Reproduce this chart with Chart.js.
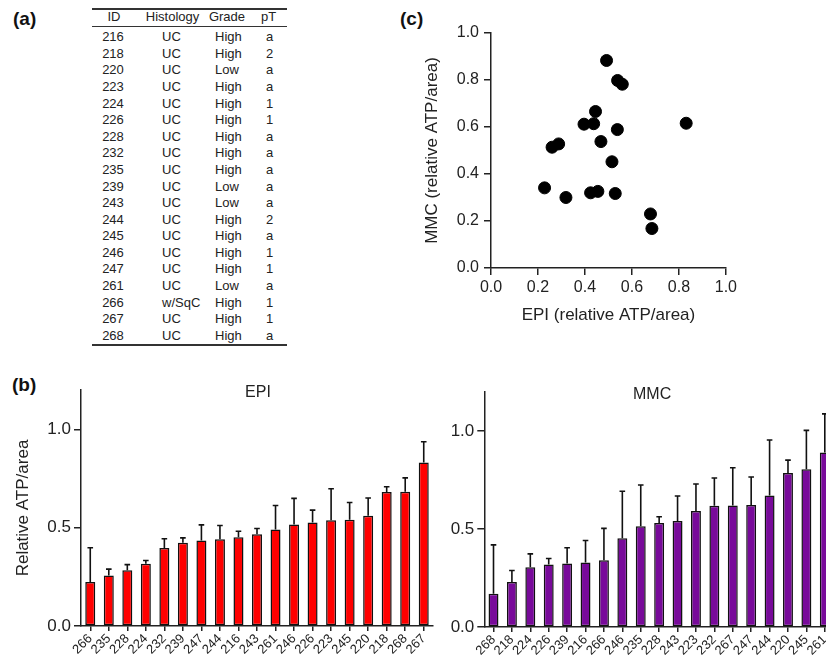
<!DOCTYPE html>
<html>
<head>
<meta charset="utf-8">
<script src="https://cdn.jsdelivr.net/npm/chart.js@4.4.1/dist/chart.umd.min.js"></script>
<style>
  html, body { margin: 0; padding: 0; background: #fff; }
  #page { position: relative; width: 826px; height: 662px; overflow: hidden; font-family: 'Liberation Sans', Arial, sans-serif; color: #222; }
  .panel { position: absolute; font-weight: bold; font-size: 19px; color: #111; }
  .cell { position: absolute; font-size: 13px; line-height: 16px; white-space: nowrap; }
  .rule { position: absolute; background: #333; }
  canvas { position: absolute; }
</style>
</head>
<body>
<div id="page">
  <div class="panel" style="left:13px; top:8px;">(a)</div>
  <div class="panel" style="left:12px; top:374px;">(b)</div>
  <div class="panel" style="left:400px; top:8px;">(c)</div>
  <div id="table"></div>
  <canvas id="scatter" width="340" height="340" style="left:400px; top:0px;"></canvas>
  <canvas id="epi" width="440" height="292" style="left:0px; top:370px;"></canvas>
  <canvas id="mmc" width="440" height="292" style="left:400px; top:370px;"></canvas>
</div>
<script>
// table (a)
const tableIds = ['216', '218', '220', '223', '224', '226', '228', '232', '235', '239', '243', '244', '245', '246', '247', '261', '266', '267', '268'];
const tableHistology = ['UC', 'UC', 'UC', 'UC', 'UC', 'UC', 'UC', 'UC', 'UC', 'UC', 'UC', 'UC', 'UC', 'UC', 'UC', 'UC', 'w/SqC', 'UC', 'UC'];
const tableGrade = ['High', 'High', 'Low', 'High', 'High', 'High', 'High', 'High', 'High', 'Low', 'Low', 'High', 'High', 'High', 'High', 'Low', 'High', 'High', 'High'];
const tablePT = ['a', '2', 'a', 'a', '1', '1', 'a', 'a', 'a', 'a', 'a', '2', 'a', '1', '1', 'a', '1', '1', 'a'];

// panel (b): bars sorted per tissue, mean and upper error
const epiIds = ['266', '235', '228', '224', '232', '239', '247', '244', '216', '243', '261', '246', '226', '223', '245', '220', '218', '268', '267'];
const epiMean = [0.224, 0.257, 0.283, 0.317, 0.397, 0.423, 0.435, 0.441, 0.451, 0.467, 0.491, 0.516, 0.526, 0.538, 0.540, 0.560, 0.681, 0.683, 0.831];
const epiErr = [0.174, 0.032, 0.029, 0.016, 0.047, 0.025, 0.079, 0.070, 0.031, 0.029, 0.122, 0.133, 0.063, 0.160, 0.088, 0.091, 0.027, 0.070, 0.106];

const mmcIds = ['268', '218', '224', '226', '239', '216', '266', '246', '235', '228', '243', '223', '232', '267', '247', '244', '220', '245', '261'];
const mmcMean = [0.170, 0.230, 0.305, 0.319, 0.324, 0.329, 0.341, 0.453, 0.514, 0.531, 0.541, 0.591, 0.618, 0.620, 0.622, 0.670, 0.786, 0.805, 0.890];
const mmcErr = [0.249, 0.058, 0.068, 0.030, 0.080, 0.112, 0.162, 0.239, 0.210, 0.031, 0.127, 0.138, 0.142, 0.192, 0.143, 0.284, 0.065, 0.198, 0.197];

const barTicks = [0, 0.5, 1.0];

// panel (c): EPI vs MMC
const scatterEpi = [0.492, 0.539, 0.559, 0.831, 0.396, 0.437, 0.445, 0.538, 0.468, 0.260, 0.288, 0.515, 0.228, 0.319, 0.424, 0.455, 0.529, 0.679, 0.685];
const scatterMmc = [0.883, 0.798, 0.782, 0.616, 0.612, 0.614, 0.666, 0.589, 0.538, 0.514, 0.528, 0.452, 0.341, 0.300, 0.320, 0.326, 0.317, 0.230, 0.168];

const FONT = "'Liberation Sans', Arial, sans-serif";
const INK = '#222';

// ---- table ----
const tbl = document.getElementById('table');
function addCell(text, x, y, align) {
    const el = document.createElement('div');
    el.className = 'cell';
    el.textContent = text;
    if (align === 'center') {
        el.style.left = (x - 40) + 'px';
        el.style.width = '80px';
        el.style.textAlign = 'center';
    } else {
        el.style.left = x + 'px';
    }
    el.style.top = (y - 8) + 'px';
    tbl.appendChild(el);
}
function addRule(y, h) {
    const el = document.createElement('div');
    el.className = 'rule';
    el.style.left = '92px';
    el.style.width = '195px';
    el.style.top = y + 'px';
    el.style.height = h + 'px';
    tbl.appendChild(el);
}
addRule(7.5, 2);
addRule(26, 1.2);
addRule(344, 2);
addCell('ID', 114, 17.3, 'center');
addCell('Histology', 172.5, 17.3, 'center');
addCell('Grade', 227, 17.3, 'center');
addCell('pT', 268.5, 17.3, 'center');
tableIds.forEach((id, i) => {
    const y = 37.3 + i * 16.58;
    addCell(id, 113, y, 'center');
    addCell(tableHistology[i], 162, y, 'left');
    addCell(tableGrade[i], 215, y, 'left');
    addCell(tablePT[i], 269.5, y, 'center');
});

// ---- plugins ----
const errorBars = {
    id: 'errorBars',
    afterDatasetsDraw(chart, args, opts) {
        const { ctx } = chart;
        const yScale = chart.scales.y;
        const ds = chart.data.datasets[0];
        ctx.save();
        ctx.strokeStyle = '#111';
        ctx.lineWidth = 1.6;
        chart.getDatasetMeta(0).data.forEach((bar, i) => {
            const top = yScale.getPixelForValue(ds.data[i] + opts.err[i]);
            ctx.beginPath();
            ctx.moveTo(bar.x, bar.y);
            ctx.lineTo(bar.x, top);
            ctx.moveTo(bar.x - 2.8, top);
            ctx.lineTo(bar.x + 2.8, top);
            ctx.stroke();
        });
        ctx.restore();
    }
};

const panelTitle = {
    id: 'panelTitle',
    afterDraw(chart, args, opts) {
        const { ctx, chartArea } = chart;
        ctx.save();
        ctx.font = '16px ' + FONT;
        ctx.fillStyle = INK;
        ctx.textAlign = 'center';
        ctx.textBaseline = 'middle';
        ctx.fillText(opts.text, (chartArea.left + chartArea.right) / 2 + opts.dx, chartArea.top + 3);
        ctx.restore();
    }
};

const axisLine = { display: true, color: INK, width: 1.5 };
const tickMarks = (len) => ({ display: true, drawOnChartArea: false, drawTicks: true, tickLength: len, color: INK, lineWidth: 1.5, offset: false });

function createBarChart(canvasId, ids, mean, err, color, cfg) {
    const ctx = document.getElementById(canvasId).getContext('2d');
    return new Chart(ctx, {
        type: 'bar',
        data: {
            labels: ids,
            datasets: [{
                data: mean,
                backgroundColor: color,
                borderColor: '#111',
                borderWidth: 1.5,
                borderSkipped: false,
                barPercentage: 0.54,
                categoryPercentage: 1.0
            }]
        },
        options: {
            responsive: false,
            animation: false,
            devicePixelRatio: 1,
            layout: { padding: { top: cfg.top, right: cfg.right, left: 0, bottom: 0 } },
            plugins: {
                legend: { display: false },
                tooltip: { enabled: false },
                errorBars: { err: err },
                panelTitle: { text: cfg.title, dx: cfg.titleDx }
            },
            scales: {
                x: {
                    grid: tickMarks(5),
                    border: axisLine,
                    ticks: {
                        color: INK,
                        font: { family: FONT, size: 13 },
                        minRotation: 45,
                        maxRotation: 45,
                        autoSkip: false,
                        padding: 0
                    },
                    afterFit: (s) => { s.height = cfg.xHeight; }
                },
                y: {
                    min: 0,
                    max: 1.2,
                    grid: tickMarks(7),
                    border: axisLine,
                    ticks: {
                        color: INK,
                        font: { family: FONT, size: 17 },
                        padding: 3,
                        callback: (v) => v.toFixed(1)
                    },
                    afterBuildTicks: (s) => { s.ticks = barTicks.map(v => ({ value: v })); },
                    title: {
                        display: cfg.yTitle !== '',
                        text: cfg.yTitle,
                        color: INK,
                        font: { family: FONT, size: 17 },
                        padding: { top: 13, bottom: 0 }
                    },
                    afterFit: (s) => { s.width = cfg.yWidth; }
                }
            }
        },
        plugins: [errorBars, panelTitle]
    });
}

createBarChart('epi', epiIds, epiMean, epiErr, '#ff0000', {
    top: 20, right: 7, xHeight: 36, yWidth: 81, title: 'EPI', titleDx: 1, yTitle: 'Relative ATP/area'
});
createBarChart('mmc', mmcIds, mmcMean, mmcErr, '#780a9a', {
    top: 21.7, right: 6, xHeight: 35, yWidth: 84.3, title: 'MMC', titleDx: -7, yTitle: ''
});

// ---- scatter (c) ----
const scatterPoints = scatterEpi.map((x, i) => ({ x: x, y: scatterMmc[i] }));
new Chart(document.getElementById('scatter').getContext('2d'), {
    type: 'scatter',
    data: {
        datasets: [{
            data: scatterPoints,
            backgroundColor: '#000',
            borderColor: '#000',
            pointRadius: 6,
            pointHoverRadius: 6
        }]
    },
    options: {
        responsive: false,
        animation: false,
        devicePixelRatio: 1,
        layout: { padding: { top: 33, right: 14, left: 0, bottom: 0 } },
        plugins: { legend: { display: false }, tooltip: { enabled: false } },
        scales: {
            x: {
                min: 0,
                max: 1,
                grid: tickMarks(7),
                border: axisLine,
                ticks: { stepSize: 0.2, color: INK, font: { family: FONT, size: 16 }, padding: 3, callback: (v) => v.toFixed(1) },
                title: {
                    display: true,
                    text: 'EPI (relative ATP/area)',
                    color: INK,
                    font: { family: FONT, size: 17 },
                    padding: { top: 0, bottom: 14.8 }
                },
                afterFit: (s) => { s.height = 72; }
            },
            y: {
                min: 0,
                max: 1,
                grid: tickMarks(7),
                border: axisLine,
                ticks: { stepSize: 0.2, color: INK, font: { family: FONT, size: 16 }, padding: 5, callback: (v) => v.toFixed(1) },
                title: {
                    display: true,
                    text: 'MMC (relative ATP/area)',
                    color: INK,
                    font: { family: FONT, size: 17 },
                    padding: { top: 21.8, bottom: 0 }
                },
                afterFit: (s) => { s.width = 91; }
            }
        }
    }
});
</script>
</body>
</html>
